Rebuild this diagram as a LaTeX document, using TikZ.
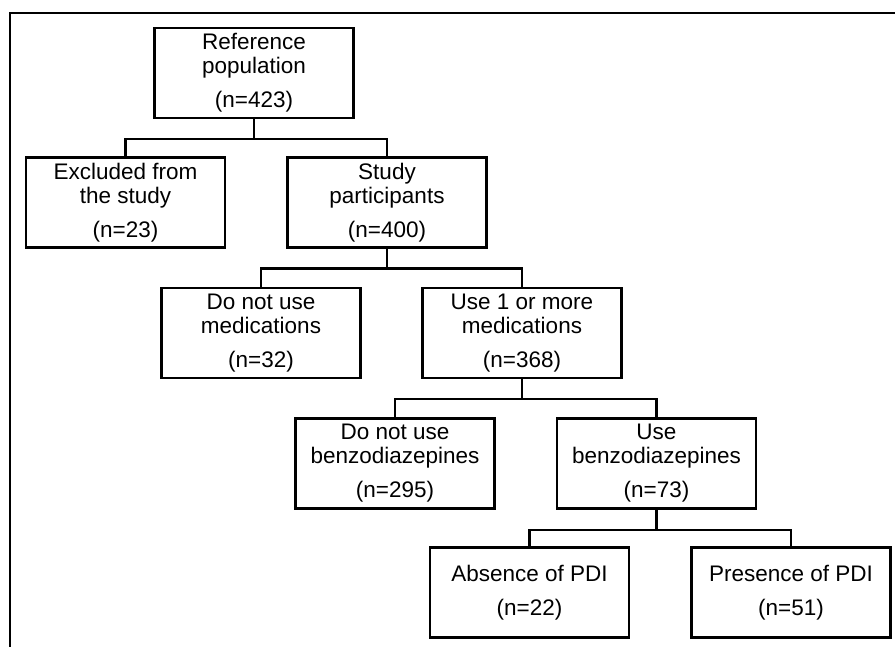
\documentclass[tikz,border=0pt]{standalone}
\usepackage{fontspec}
\setmainfont{Liberation Sans}
\usepackage{tikz}

\begin{document}
\begin{tikzpicture}[x=1pt,y=-1pt]
            \tikzstyle{box}=[draw=black,line width=2.2pt,rectangle,align=center,inner sep=0pt,minimum width=199pt,minimum height=90pt,font=\fontsize{22.5}{24}\selectfont]
            \tikzstyle{link}=[line width=2.2pt,line cap=rect]
    \useasboundingbox (0,0) rectangle (895,647);
    \draw[link] (10,647) -- (10,13) -- (895,13);
    \node[box] (ref) at (254,73) {Reference\\population\\[10pt](n=423)};
    \node[box] (excl) at (125.5,202.5) {Excluded from\\the study\\[10pt](n=23)};
    \node[box] (study) at (387,202.5) {Study\\participants\\[10pt](n=400)};
    \node[box] (nomed) at (261,333) {Do not use\\medications\\[10pt](n=32)};
    \node[box] (med) at (522,333) {Use 1 or more\\medications\\[10pt](n=368)};
    \node[box] (nobenz) at (395,463.5) {Do not use\\benzodiazepines\\[10pt](n=295)};
    \node[box] (benz) at (656.5,463.5) {Use\\benzodiazepines\\[10pt](n=73)};
    \node[box] (absent) at (529.5,592.5) {Absence of PDI\\[10pt](n=22)};
    \node[box] (present) at (791,592.5) {Presence of PDI\\[10pt](n=51)};
    \draw[link] (ref.south) -- +(0,20) -| (excl.north);
    \draw[link] (ref.south) -- +(0,20) -| (study.north);
    \draw[link] (study.south) -- +(0,20) -| (nomed.north);
    \draw[link] (study.south) -- +(0,20) -| (med.north);
    \draw[link] (med.south) -- +(0,20) -| (nobenz.north);
    \draw[link] (med.south) -- +(0,20) -| (benz.north);
    \draw[link] (benz.south) -- +(0,20) -| (absent.north);
    \draw[link] (benz.south) -- +(0,20) -| (present.north);
\end{tikzpicture}
\end{document}
